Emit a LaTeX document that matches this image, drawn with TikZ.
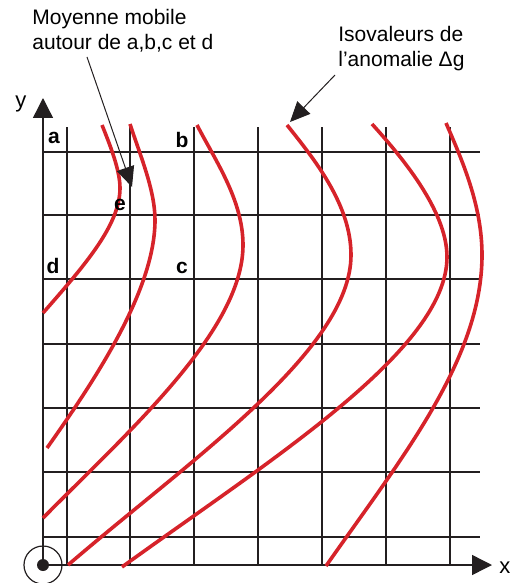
\documentclass[tikz,border=0pt]{standalone}
\usepackage{fontspec}
\setmainfont{Liberation Sans}
\usepackage{xcolor}
\usepackage{tikz}
\usetikzlibrary{arrows.meta}

\definecolor{isored}{RGB}{214,35,42}
\definecolor{gridgray}{RGB}{35,31,32}

\begin{document}
\begin{tikzpicture}[
    x=0.5pt, y=-0.5pt,
    grid_line/.style={draw=gridgray, line width=0.7pt},
    axis_arrow/.style={draw=gridgray, line width=0.7pt, -{Triangle[length=10pt, width=10pt]}},
    pointer_arrow/.style={draw=gridgray, line width=0.5pt, -{Triangle[length=10pt, width=9pt]}},
    iso_curve/.style={draw=isored, line width=1.8pt},
    % Labels
    note_node/.style={anchor=north west, inner sep=0pt, align=left, font=\fontsize{10.5}{12.5}\selectfont},
    point_node/.style={anchor=base, inner sep=0pt, font=\fontsize{10.5}{12}\selectfont\bfseries},
    axis_node/.style={anchor=base, inner sep=0pt, font=\fontsize{11}{13}\selectfont}
]
    \useasboundingbox (0,0) rectangle (512,583);

    % =========================================================================
    % GRILLE DE MESURE
    % =========================================================================
    \draw [grid_line] (67,127) -- (67,565);
    \draw [grid_line] (130,127) -- (130,565);
    \draw [grid_line] (194,127) -- (194,565);
    \draw [grid_line] (258,127) -- (258,565);
    \draw [grid_line] (322,127) -- (322,565);
    \draw [grid_line] (386,127) -- (386,565);
    \draw [grid_line] (450,127) -- (450,565);

    \draw [grid_line] (43,152) -- (480,152);
    \draw [grid_line] (43,215) -- (480,215);
    \draw [grid_line] (43,279) -- (480,279);
    \draw [grid_line] (43,344) -- (480,344);
    \draw [grid_line] (43,408) -- (480,408);
    \draw [grid_line] (43,472) -- (480,472);
    \draw [grid_line] (43,537) -- (480,537);

    % =========================================================================
    % AXES ET ORIGINE
    % =========================================================================
    \coordinate (orig) at (43,565);
    \coordinate (xend) at (492,565);
    \coordinate (yend) at (43,98);
    \draw [axis_arrow] (orig) -- (xend);
    \draw [axis_arrow] (orig) -- (yend);
    \draw [gridgray, line width=0.6pt] (orig) circle [radius=9.5pt];
    \fill [gridgray] (orig) circle [radius=3pt];

    \node [axis_node] (ylab) at (21,107) {y};
    \node [axis_node, anchor=base west] (xlab) at (499,573) {x};

    % =========================================================================
    % ISOVALEURS DE L'ANOMALIE
    % =========================================================================
    \draw [iso_curve] (102,125) .. controls (110,145) and (120,170) .. (120,188)
                                .. controls (120,225) and (85,265) .. (43,313);
    \draw [iso_curve] (130,124) .. controls (140,155) and (155,190) .. (155,220)
                                .. controls (155,290) and (95,380) .. (47,448);
    \draw [iso_curve] (197,125) .. controls (215,160) and (243,200) .. (243,245)
                                .. controls (243,330) and (130,430) .. (43,518);
    \draw [iso_curve] (287,125) .. controls (315,160) and (351,205) .. (351,255)
                                .. controls (351,350) and (190,460) .. (68,565);
    \draw [iso_curve] (372,124) .. controls (400,155) and (447,210) .. (447,257)
                                .. controls (447,350) and (270,460) .. (122,567);
    \draw [iso_curve] (446,123) .. controls (462,160) and (482,205) .. (482,255)
                                .. controls (482,360) and (400,460) .. (326,566);

    % =========================================================================
    % POINTS DE LA MOYENNE MOBILE
    % =========================================================================
    \node [point_node] (pa) at (54,143) {a};
    \node [point_node] (pb) at (182,148) {b};
    \node [point_node] (pd) at (53,273) {d};
    \node [point_node] (pc) at (182,273) {c};
    \node [point_node] (pe) at (120,210) {e};

    % =========================================================================
    % ANNOTATIONS
    % =========================================================================
    \node [note_node] (moyenne) at (32,9) {Moyenne mobile\\autour de a,b,c et d};
    \node [note_node] (isoval) at (338,26) {Isovaleurs de\\l’anomalie Δg};

    \coordinate (moy_start) at (87,57);
    \coordinate (moy_tip) at (132,187);
    \coordinate (iso_start) at (335,75);
    \coordinate (iso_tip) at (290,122);
    \draw [pointer_arrow] (moy_start) -- (moy_tip);
    \draw [pointer_arrow] (iso_start) -- (iso_tip);
\end{tikzpicture}
\end{document}
